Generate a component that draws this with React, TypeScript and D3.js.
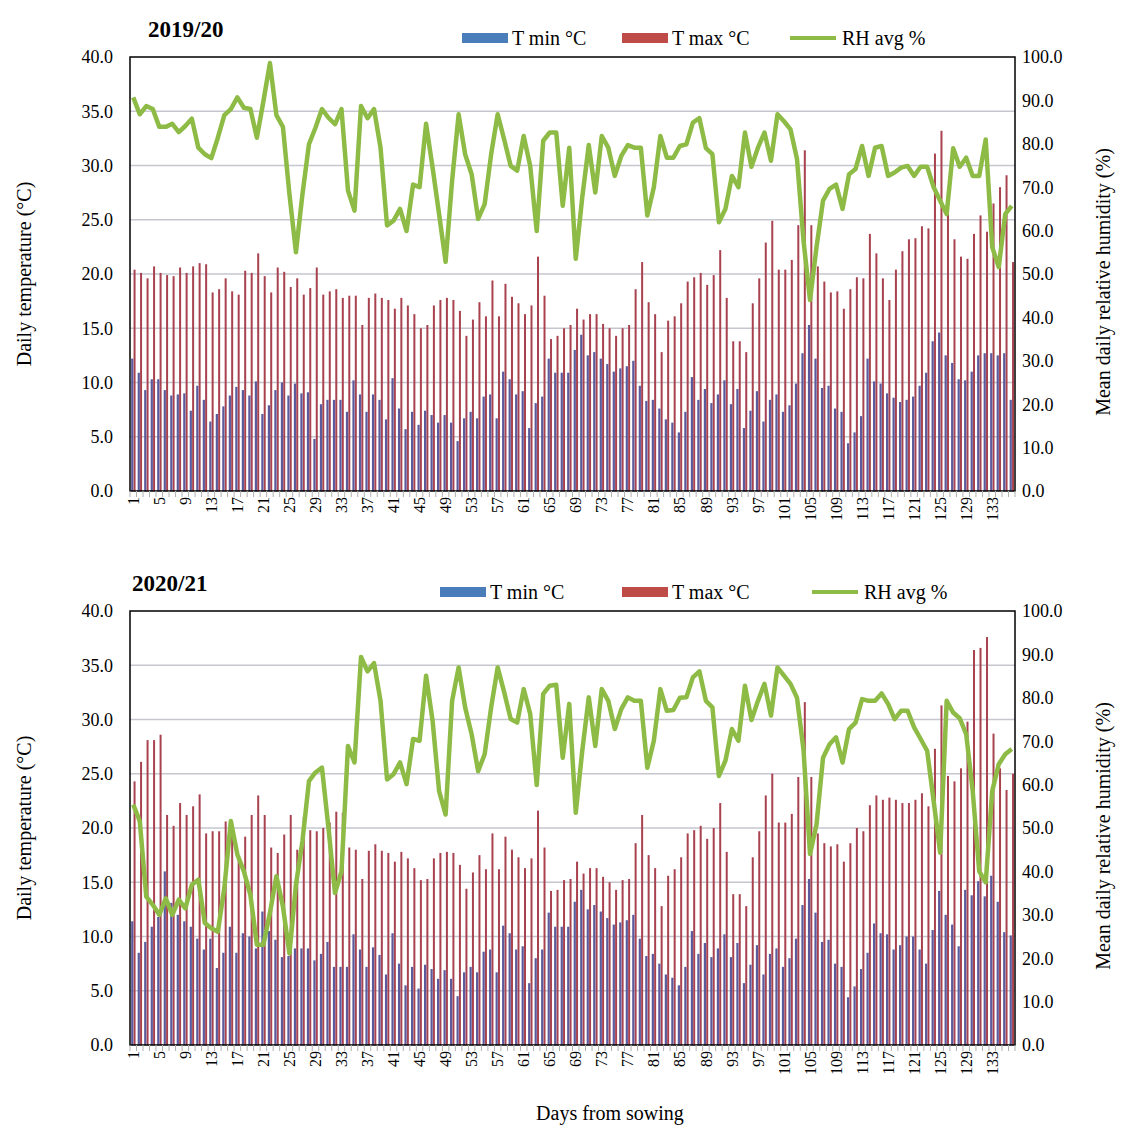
import React from "react";
import * as d3 from "d3";

// days from sowing (136 days in each season)
const days = d3.range(1, 137);
const dayTicks = days.filter((d) => (d - 1) % 4 === 0);
const tempTicks = [0, 5, 10, 15, 20, 25, 30, 35, 40];
const rhTicks = [0, 10, 20, 30, 40, 50, 60, 70, 80, 90, 100];

// 2019/20
const tmin1920 = [
  12.2, 10.9, 9.3, 10.3, 10.3, 9.3, 8.8, 8.9, 9.0, 7.4, 9.7, 8.4, 6.4, 7.1, 7.8, 8.8, 9.6, 9.3, 8.8, 10.1,
  7.1, 7.9, 9.3, 10.0, 8.8, 9.9, 9.0, 9.1, 4.8, 8.0, 8.4, 8.4,
  8.4, 7.3, 10.2, 8.9, 7.3, 8.9, 8.4, 6.6, 10.4, 7.6, 5.7, 7.3, 6.1, 7.4, 7.0, 6.3, 7.0, 6.3, 4.6, 6.7,
  7.3, 6.7, 8.7, 8.9, 6.7, 11.0, 10.3, 8.9, 9.2, 5.8, 8.1, 8.7, 12.2, 10.9, 10.9, 10.9,
  13.0, 14.4, 12.5, 12.8, 12.2, 11.7, 11.0, 11.3, 11.5, 12.0, 9.7, 8.3, 8.4, 7.6, 6.6, 6.3, 5.4, 7.3,
  10.5, 8.4, 9.4, 8.1, 8.9, 10.2, 8.0, 9.4, 5.8, 7.4, 9.2, 6.4, 8.4, 8.9,
  7.3, 7.9, 9.9, 12.7, 15.3, 12.2, 9.5, 9.7, 7.6, 7.3, 4.4, 5.4, 6.9, 12.2, 10.1, 9.9, 9.0, 8.6, 8.2,
  8.4, 8.7, 9.7, 10.9, 13.8, 14.6, 12.5, 11.8, 10.3, 10.2, 11.0, 12.5, 12.7, 12.7, 12.5, 12.7, 8.4,
];
const tmax1920 = [
  20.4, 20.1, 19.6, 20.7, 20.1, 19.9, 19.8, 20.6, 20.1, 20.7, 21.0, 20.9, 18.3, 18.6, 19.6, 18.4, 18.1,
  20.3, 20.1, 21.9, 19.8, 18.3, 20.6, 20.2, 18.8, 19.6, 18.1, 18.7, 20.6, 18.1, 18.4, 18.6,
  17.8, 18.0, 18.0, 15.3, 17.8, 18.2, 17.8, 17.6, 16.8, 17.8, 17.1, 16.3, 15.0, 15.3, 17.1, 17.6, 17.8,
  17.6, 16.6, 14.3, 15.8, 17.4, 16.1, 19.4, 16.1, 19.1, 17.9, 17.3, 16.3, 17.1, 21.6, 18.0, 14.0, 14.3,
  15.0, 15.3,
  16.8, 15.8, 16.3, 16.3, 15.4, 15.0, 14.3, 15.0, 15.3, 18.6, 21.1, 17.4, 16.3, 12.8, 15.7, 16.1, 17.3,
  19.3, 19.7, 20.1, 19.0, 19.9, 22.2, 17.8, 13.8, 13.8, 12.8, 17.3, 19.6, 22.9, 24.9, 20.4,
  20.4, 21.3, 24.5, 31.4, 24.5, 20.7, 19.3, 18.3, 18.4, 16.8, 18.6, 19.7, 19.6, 23.7, 21.9, 19.6, 17.6,
  20.4, 22.1, 23.2, 23.3, 24.4, 24.2, 31.1, 33.2, 25.5, 23.2, 21.6, 21.4, 23.7, 25.4, 23.9, 26.5, 28.0,
  29.1, 21.1,
];
const rh1920 = [
  90.7, 86.8, 88.7, 88.0, 83.9, 83.9, 84.6, 82.7, 84.1, 85.8, 79.1, 77.6, 76.7, 81.4, 86.6, 88.0, 90.7,
  88.3, 88.0, 81.4, 89.8, 98.6, 86.6, 83.9, 68.4, 55.0, 68.4, 79.9, 83.7, 88.0, 86.0, 84.5, 88.0, 69.2,
  64.6, 88.7, 85.9, 88.0, 79.1, 61.2, 62.3, 65.0, 59.9, 70.6, 70.0, 84.6, 74.5, 63.8, 52.8, 71.5, 86.8,
  77.6, 73.0, 62.7, 66.1, 77.6, 86.8, 81.0, 74.9, 73.8, 81.8, 74.9, 59.9, 80.7, 82.6, 82.6, 65.7, 79.1,
  53.5, 67.7, 79.7, 68.8, 81.8, 79.1, 72.6, 77.2, 79.7, 79.1, 79.1, 63.5, 70.0, 81.8, 76.8, 76.8, 79.5,
  79.9, 84.9, 85.9, 79.0, 77.6, 61.9, 65.0, 72.6, 70.0, 82.6, 74.7, 79.1, 82.6, 76.1, 86.8, 85.2, 83.3,
  76.5, 57.7, 44.0, 56.2, 66.9, 69.6, 70.6, 65.0, 73.0, 74.2, 79.5, 72.6, 79.1, 79.5, 72.6, 73.4, 74.5,
  74.9, 72.6, 74.7, 74.7, 70.0, 66.9, 63.8, 79.0, 74.7, 76.8, 72.6, 72.6, 81.0, 56.2, 51.6, 63.8, 65.7,
];

// 2020/21
const tmin2021 = [
  11.4, 8.5, 9.5, 10.9, 11.8, 16.0, 13.1, 12.0, 11.4, 10.9, 9.8, 8.8, 9.8, 7.1, 8.5, 10.9, 8.5, 10.3,
  10.0, 8.9, 12.3, 10.5, 9.7, 8.1, 8.2, 8.9, 8.9, 8.9, 7.8, 8.4, 9.5, 7.2, 7.2, 7.2,
  10.2, 8.8, 7.2, 9.0, 8.3, 6.5, 10.3, 7.5, 5.5, 7.2, 5.2, 7.4, 7.0, 6.1, 6.9, 6.1, 4.5, 6.7, 7.2, 6.7,
  8.6, 8.8, 6.7, 11.0, 10.3, 8.8, 9.1, 5.7, 8.0, 8.8, 12.2, 10.9, 10.9, 10.9,
  13.2, 14.3, 12.5, 12.9, 12.3, 11.7, 11.1, 11.3, 11.5, 12.0, 9.8, 8.2, 8.4, 7.5, 6.5, 6.2, 5.5, 7.2,
  10.5, 8.4, 9.4, 8.1, 8.9, 10.2, 8.1, 9.4, 5.7, 7.4, 9.2, 6.5, 8.4, 8.9, 7.2,
  8.0, 9.8, 12.9, 15.3, 12.2, 9.5, 9.7, 7.5, 7.2, 4.4, 5.4, 7.0, 8.5, 11.2, 10.3, 10.2, 8.8, 9.2, 10.0,
  10.0, 8.8, 7.5, 10.6, 14.2, 12.0, 11.1, 9.1, 14.3, 13.8, 15.1, 13.7, 15.6, 13.2, 10.4, 10.1,
];
const tmax2021 = [
  24.3, 26.1, 28.1, 28.1, 28.6, 21.2, 20.2, 22.3, 21.2, 22.0, 23.1, 19.5, 19.7, 19.7, 20.6, 20.2, 17.5,
  19.2, 21.2, 23.0, 21.2, 18.2, 17.7, 19.4, 21.2, 18.0, 21.0, 19.8, 19.7, 20.0, 20.5, 21.5, 21.4, 18.2,
  18.0, 15.3, 17.9, 18.5, 17.9, 17.7, 16.9, 17.8, 17.2, 16.3, 15.2, 15.3, 17.2, 17.7, 17.8, 17.7, 16.6,
  14.4, 15.9, 17.5, 16.2, 19.5, 16.2, 19.2, 18.0, 17.3, 16.3, 17.2, 21.6, 18.2, 14.2, 14.3, 15.2, 15.3,
  16.9, 15.8, 16.3, 16.3, 15.5, 15.0, 14.3, 15.2, 15.3, 18.6, 21.2, 17.5, 16.3, 12.8, 15.6, 16.2, 17.3,
  19.5, 19.8, 20.2, 19.0, 20.0, 22.3, 17.8, 13.9, 13.9, 12.8, 17.3, 19.7, 23.0, 25.0, 20.5, 20.5,
  21.3, 24.7, 31.6, 24.7, 19.5, 18.6, 18.3, 18.5, 16.9, 18.6, 20.0, 19.7, 22.1, 23.0, 22.6, 22.8, 22.6,
  22.3, 22.3, 22.6, 23.2, 22.0, 27.3, 31.3, 24.8, 24.3, 25.5, 29.8, 36.4, 36.6, 37.6, 28.7, 25.5, 23.5,
  25.0,
];
const rh2021 = [
  55.4, 51.6, 34.2, 32.3, 30.0, 33.8, 30.0, 33.5, 31.5, 36.9, 38.1, 28.1, 26.9, 26.1, 36.2, 51.6, 43.9,
  40.0, 34.6, 23.1, 23.1, 30.4, 38.9, 31.9, 21.1, 36.9, 47.0, 60.8, 62.8, 63.9, 50.0, 35.0, 40.0, 68.9,
  65.1, 89.4, 86.1, 88.0, 79.3, 61.2, 62.4, 65.1, 60.1, 70.5, 70.1, 85.1, 74.7, 58.5, 53.1, 79.3, 87.0,
  77.8, 71.6, 63.1, 67.0, 77.8, 87.0, 81.3, 75.1, 74.3, 82.0, 76.3, 59.9, 80.9, 82.8, 83.0, 66.2, 78.6,
  53.5, 67.8, 80.1, 68.9, 82.0, 79.3, 72.8, 77.4, 80.1, 79.3, 79.3, 63.9, 70.1, 82.0, 77.0, 77.2, 80.0,
  80.1, 84.7, 86.1, 79.3, 77.8, 62.0, 65.5, 72.8, 70.1, 82.8, 74.9, 79.3, 83.2, 75.9, 87.0, 85.1, 83.2,
  80.0, 68.0, 44.0, 50.8, 66.2, 69.3, 70.9, 65.1, 72.8, 74.3, 79.7, 79.3, 79.3, 81.0, 78.6, 75.1, 77.0,
  77.0, 73.2, 70.5, 67.8, 56.2, 44.3, 79.3, 76.6, 75.3, 71.6, 58.5, 40.0, 37.5, 58.5, 64.7, 67.0, 68.2,
];

const FONT = "'Liberation Serif', 'Times New Roman', serif";
const C_MIN = "#5a5a9c";
const C_MAX = "#a8424f";
const C_RH = "#8dbb45";

const plotLeft = 130;
const plotRight = 1015;
const plotH = 434;

const x = d3.scaleBand<number>().domain(days).range([plotLeft, plotRight]).paddingInner(0);
const bw = x.bandwidth();

function Panel({ top, title, titleX, tmin, tmax, rh, legend }: any) {
  const bottom = top + plotH;
  const yT = d3.scaleLinear().domain([0, 40]).range([bottom, top]);
  const yR = d3.scaleLinear().domain([0, 100]).range([bottom, top]);
  const line = d3
    .line<number>()
    .x((_, i) => (x(days[i]) as number) + bw / 2)
    .y((d) => yR(d));
  const midY = (top + bottom) / 2;

  return (
    <g>
      <text x={titleX} y={top - 20} fontFamily={FONT} fontWeight="bold" fontSize={23}>
        {title}
      </text>

      {/* legend */}
      <rect x={legend.min} y={top - 24} width={46} height={10} fill="#4a7ebb" />
      <text x={legend.min + 50} y={top - 12} fontFamily={FONT} fontSize={20}>T min °C</text>
      <rect x={legend.max} y={top - 24} width={46} height={10} fill="#be4b48" />
      <text x={legend.max + 50} y={top - 12} fontFamily={FONT} fontSize={20}>T max °C</text>
      <line x1={legend.rh} x2={legend.rh + 46} y1={top - 19} y2={top - 19} stroke={C_RH} strokeWidth={4} />
      <text x={legend.rh + 52} y={top - 12} fontFamily={FONT} fontSize={20}>RH avg %</text>

      {/* gridlines */}
      {tempTicks.slice(1, -1).map((t) => (
        <line key={t} x1={plotLeft} x2={plotRight} y1={yT(t)} y2={yT(t)} stroke="#c6c6d0" strokeWidth={1.5} />
      ))}

      {/* bars */}
      {days.map((d, i) => {
        const cx = (x(d) as number) + bw / 2;
        return (
          <g key={d}>
            <rect x={cx + 0.3} y={yT(tmax[i])} width={2} height={bottom - yT(tmax[i])} fill={C_MAX} />
            <rect x={cx - 2.1} y={yT(tmin[i])} width={2.2} height={bottom - yT(tmin[i])} fill={C_MIN} />
          </g>
        );
      })}

      <path d={line(rh) as string} fill="none" stroke={C_RH} strokeWidth={4.5} strokeLinejoin="round" />

      {/* frame */}
      <rect x={plotLeft} y={top} width={plotRight - plotLeft} height={plotH} fill="none" stroke="#000" strokeWidth={1.5} />

      {/* x ticks */}
      {days.concat([137]).map((d, i) => {
        const xx = plotLeft + i * bw;
        return <line key={"t" + d} x1={xx} x2={xx} y1={bottom} y2={bottom + 6} stroke="#b0b0b0" strokeWidth={1} />;
      })}
      {dayTicks.map((d) => (
        <text
          key={"l" + d}
          transform={`translate(${(x(d) as number) + bw / 2},${bottom + 6}) rotate(-90)`}
          textAnchor="end"
          dy="0.35em"
          fontFamily={FONT}
          fontSize={16}
        >
          {d}
        </text>
      ))}

      {/* y ticks */}
      {tempTicks.map((t) => (
        <text key={"y" + t} x={113} y={yT(t)} dy="0.35em" textAnchor="end" fontFamily={FONT} fontSize={18}>
          {t.toFixed(1)}
        </text>
      ))}
      {rhTicks.map((t) => (
        <text key={"r" + t} x={1022} y={yR(t)} dy="0.35em" textAnchor="start" fontFamily={FONT} fontSize={18}>
          {t.toFixed(1)}
        </text>
      ))}

      <text transform={`translate(31,${midY}) rotate(-90)`} textAnchor="middle" fontFamily={FONT} fontSize={20}>
        Daily  temperature (°C)
      </text>
      <text transform={`translate(1110,${midY + 8}) rotate(-90)`} textAnchor="middle" fontFamily={FONT} fontSize={20}>
        Mean daily relative humidity (%)
      </text>
    </g>
  );
}

export default function App() {
  return (
    <svg
      width={1124}
      height={1126}
      style={{ position: "absolute", left: 0, top: 0, background: "#fff" }}
    >
      <Panel
        top={57}
        title="2019/20"
        titleX={148}
        tmin={tmin1920}
        tmax={tmax1920}
        rh={rh1920}
        legend={{ min: 462, max: 622, rh: 790 }}
      />
      <Panel
        top={611}
        title="2020/21"
        titleX={132}
        tmin={tmin2021}
        tmax={tmax2021}
        rh={rh2021}
        legend={{ min: 440, max: 622, rh: 812 }}
      />
      <text x={610} y={1120} textAnchor="middle" fontFamily={FONT} fontSize={20}>
        Days from  sowing
      </text>
    </svg>
  );
}
